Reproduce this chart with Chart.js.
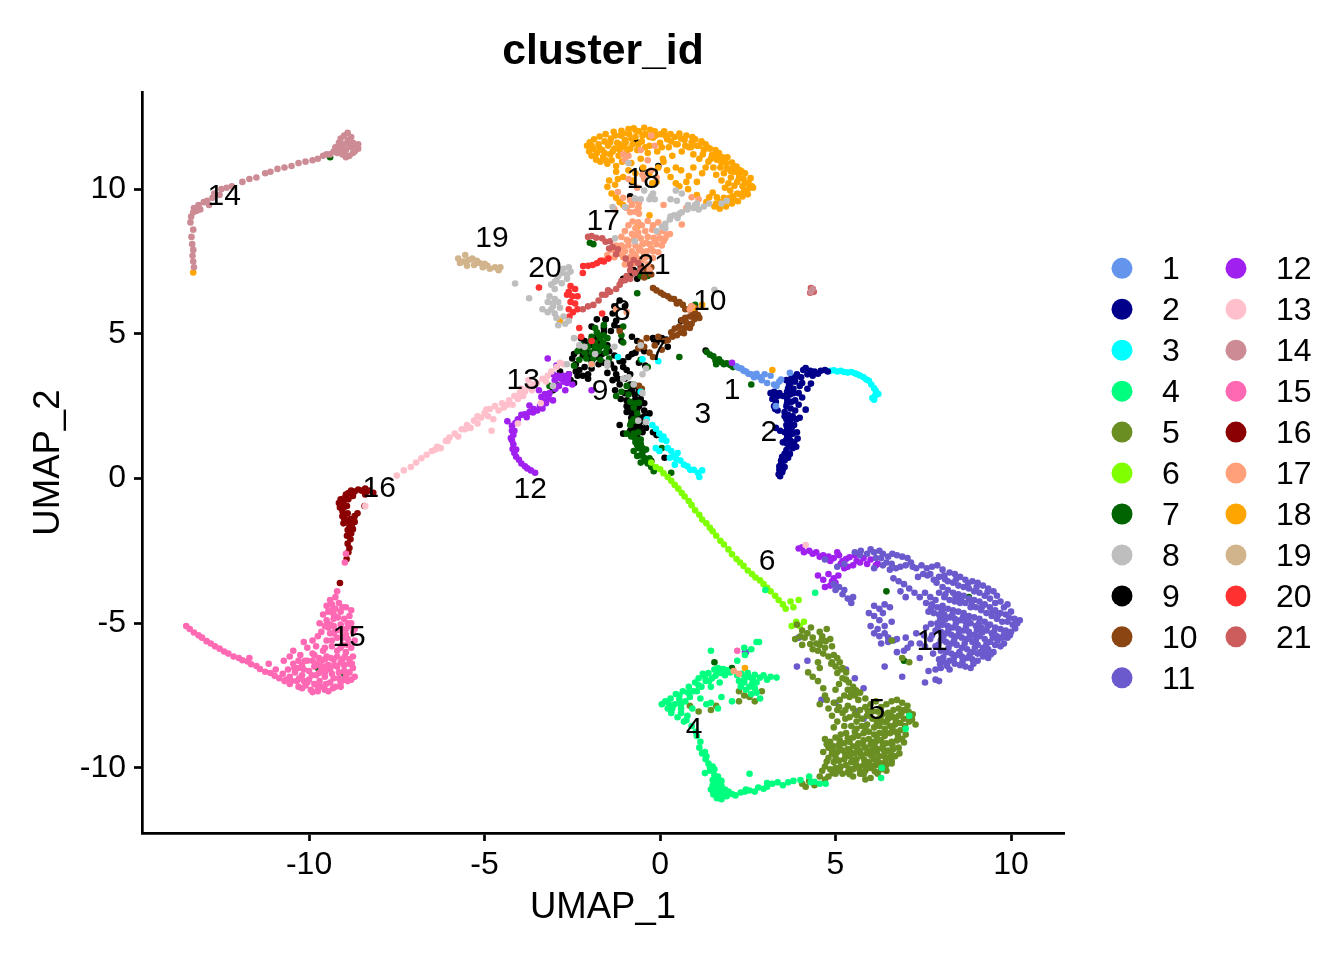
<!DOCTYPE html>
<html>
<head>
<meta charset="utf-8">
<style>
  html, body { margin: 0; padding: 0; background: #fff; }
  canvas { display: block; }
</style>
<script src="https://cdn.jsdelivr.net/npm/chart.js@4/dist/chart.umd.min.js"></script>
</head>
<body>
<canvas id="umap" width="1344" height="960"></canvas>
<script>
// values, flat lists of x,y in UMAP units
const clusterNames = ["1","2","3","4","5","6","7","8","9","10","11","12","13","14","15","16","17","18","19","20","21"];
const clusterColors = ["#6495ED","#00008B","#00FFFF","#00FF7F","#6B8E23","#7FFF00","#006400","#BEBEBE","#000000","#8B4513","#6A5ACD","#A020F0","#FFC0CB","#CD8C95","#FF69B4","#8B0000","#FFA07A","#FFA500","#D2B48C","#FF3030","#CD5C5C"];
const labelX = [2.05,3.1,1.22,0.97,6.18,3.05,-0.06,-1.08,-1.71,1.42,7.75,-3.7,-3.9,-12.42,-8.86,-8.0,-1.62,-0.48,-4.79,-3.28,-0.17];
const labelY = [3.09,1.64,2.26,-8.62,-7.96,-2.82,4.44,5.82,3.06,6.17,-5.58,-0.33,3.44,9.79,-5.44,-0.29,8.93,10.38,8.34,7.31,7.41];
const xTicks = [-10,-5,0,5,10];
const yTicks = [-10,-5,0,5,10];

const c1 = [2.18,3.88,2.25,3.82,2.32,3.8,2.38,3.72,2.45,3.7,2.52,3.62,2.6,3.6,2.68,3.5,2.75,3.62,2.85,3.5,2.9,3.4,2.98,3.6,3.05,3.3,3.15,3.55,3.25,3.25,3.32,3.2,3.4,3.35,3.45,3.42,3.7,3.65,3.3,2.5];
const c2 = [3.6,3.4,3.68,3.25,3.75,3.5,3.8,3.1,3.85,3.35,3.9,3.6,3.98,3.2,4.02,3.5,4.08,3.75,4.15,3.82,4.2,3.6,4.28,3.72,4.35,3.55,4.4,3.7,4.5,3.62,4.58,3.72,4.7,3.75,4.78,3.7,4.3,3.28,4.2,3.1,3.95,2.95,3.62,3.0,3.15,2.95,3.25,3.0,3.35,2.85,3.2,2.75,3.3,2.65,3.4,2.95,3.25,2.5,3.35,2.35,3.62,2.75,3.7,2.9,3.85,2.7,3.95,2.55,4.05,2.8,3.6,2.5,3.72,2.42,3.85,2.35,3.55,2.3,3.65,2.2,3.78,2.15,3.88,2.05,3.98,2.1,4.15,2.38,3.6,2.05,3.7,1.95,3.82,1.85,3.6,1.85,3.3,1.75,3.42,1.65,3.55,1.6,3.68,1.68,3.78,1.55,3.9,1.6,3.5,1.25,3.62,1.4,3.72,1.3,3.82,1.25,3.92,1.38,3.68,1.12,3.78,1.05,3.88,1.1,3.6,0.98,3.7,0.85,3.48,0.75,3.55,0.62,3.65,0.72,3.45,0.5,3.55,0.4,3.4,0.3,3.48,0.22,3.38,0.15,3.5,0.32,3.42,0.08,3.72,3.3,3.85,3.5,4.05,3.3,3.65,3.12,3.5,2.85,3.8,2.95,3.3,2.9,3.28,2.4,3.62,2.6,3.75,2.65,3.72,2.05,3.55,2.15,3.62,1.75,3.75,1.75,3.62,1.52,3.58,1.3,3.7,1.5,3.62,1.2,3.55,0.85,3.6,0.78,3.45,0.62,3.4,0.42];
const c3 = [4.85,3.72,4.95,3.74,5.05,3.7,5.15,3.72,5.25,3.68,5.35,3.66,5.45,3.68,5.55,3.64,5.62,3.6,5.7,3.56,5.8,3.5,5.88,3.42,5.95,3.38,6.02,3.25,6.1,3.12,6.15,3.02,6.22,2.92,6.12,2.85,6.05,2.78,6.1,2.72,-0.38,2.05,-0.22,1.85,-0.12,1.72,-0.02,1.55,0.05,1.35,0.1,1.45,0.18,1.3,-0.12,1.05,-0.02,0.95,0.22,1.05,0.32,0.95,0.38,0.78,0.46,0.68,0.58,0.62,0.68,0.48,0.78,0.42,0.86,0.3,0.96,0.3,1.08,0.2,1.2,0.28,1.12,0.05,0.5,0.88,0.28,0.72,0.42,0.48,-1.95,3.95,-0.5,4.12,-0.05,4.05,-1.2,4.2,-0.55,3.0];
const c4 = [0.05,-7.8,0.15,-7.7,0.22,-7.95,0.3,-7.6,0.32,-8.1,0.42,-7.8,0.45,-7.45,0.5,-8.25,0.55,-7.65,0.6,-7.95,0.65,-7.35,0.68,-8.4,0.72,-7.7,0.78,-8.2,0.82,-7.2,0.85,-7.55,0.9,-8.55,0.92,-7.95,1.0,-7.05,1.05,-7.35,1.02,-8.75,1.1,-6.9,1.15,-7.6,1.18,-7.2,1.22,-6.75,1.3,-7.0,1.32,-7.8,1.38,-6.72,1.45,-7.2,1.48,-6.9,1.55,-6.6,1.58,-6.82,1.65,-6.55,1.7,-7.05,1.72,-6.72,1.8,-6.58,1.85,-6.8,1.9,-6.62,2.0,-6.7,1.75,-7.55,1.45,-7.75,1.65,-7.95,2.2,-6.8,2.25,-7.0,2.32,-6.75,2.4,-6.95,2.5,-6.72,2.58,-6.88,2.62,-7.1,2.7,-6.78,2.75,-7.05,2.85,-6.88,2.95,-6.8,3.05,-6.95,3.15,-6.85,3.32,-6.88,2.3,-7.2,2.45,-7.3,2.6,-7.45,2.75,-7.4,2.85,-7.6,2.05,-7.7,1.45,-5.95,2.2,-6.3,2.42,-6.1,2.6,-5.9,2.75,-5.65,2.82,-5.65,2.4,-5.85,1.05,-8.9,1.15,-9.1,1.12,-9.3,1.2,-9.5,1.28,-9.45,1.3,-9.7,1.38,-9.85,1.5,-9.95,1.55,-10.05,1.42,-10.1,1.28,-10.18,2.55,-10.2,1.55,-10.25,1.65,-10.3,1.5,-10.42,1.62,-10.48,1.75,-10.45,1.5,-10.6,1.62,-10.65,1.75,-10.62,1.45,-10.75,1.58,-10.82,1.7,-10.78,1.85,-10.75,1.52,-10.92,1.68,-10.95,1.8,-10.98,1.62,-11.05,1.75,-11.08,1.9,-10.98,2.05,-10.9,2.15,-10.95,2.3,-10.85,2.42,-10.82,2.55,-10.78,2.7,-10.82,2.8,-10.68,2.95,-10.72,3.05,-10.52,3.2,-10.55,3.05,-10.65,3.35,-10.5,3.5,-10.6,3.65,-10.5,3.8,-10.45,4.0,-10.42,4.25,-10.3,4.4,-10.48,4.55,-10.55,4.72,-10.55,4.3,-10.5,7.0,-8.65,7.1,-8.2,6.32,-10.0,6.3,-10.35,3.0,-3.85,4.42,-3.95,0.25,-7.8,0.35,-7.95,0.6,-7.8,0.55,-7.5,0.8,-7.4,0.95,-7.35,1.1,-7.15,1.28,-6.85,1.4,-7.0,1.62,-6.7,1.75,-6.6,2.45,-6.85,2.65,-6.95,2.4,-7.05,2.55,-7.2,2.7,-7.25,1.55,-10.6,1.7,-10.55,1.85,-10.88,1.55,-10.75,1.95,-10.82,2.45,-10.75,0.6,-8.1,0.75,-8.35,1.42,-9.95,1.32,-9.6];
const c5 = [3.9,-5.05,4.05,-5.25,4.0,-5.45,4.2,-5.35,4.3,-5.15,4.35,-5.5,4.45,-5.7,4.55,-5.3,4.6,-5.6,4.7,-5.85,4.5,-5.95,4.35,-5.9,4.75,-5.2,4.85,-5.55,4.9,-5.8,4.65,-6.05,4.8,-6.15,4.95,-6.1,5.05,-6.2,4.88,-6.4,5.0,-6.5,5.12,-6.35,5.2,-6.55,5.05,-6.72,4.22,-6.7,4.35,-6.85,4.5,-7.0,5.3,-6.7,5.2,-6.9,5.38,-7.05,5.1,-7.1,5.5,-7.2,5.35,-7.3,5.25,-7.5,5.0,-7.3,4.65,-7.25,4.75,-7.65,4.55,-7.8,4.8,-7.95,5.4,-7.55,5.55,-7.5,5.7,-7.4,5.65,-7.65,5.85,-7.6,5.1,-7.9,5.2,-8.1,5.35,-7.85,5.5,-7.95,4.9,-8.2,5.05,-8.4,4.95,-8.6,5.25,-8.55,5.4,-8.25,5.55,-8.15,5.7,-8.0,5.85,-7.9,6.0,-7.8,6.15,-7.7,6.3,-7.9,6.45,-7.8,6.6,-7.7,6.75,-7.65,6.9,-7.75,7.05,-7.85,7.2,-8.15,7.1,-8.4,7.28,-8.5,6.95,-8.0,6.8,-7.95,6.65,-8.0,6.5,-8.1,6.35,-8.15,6.2,-8.05,6.05,-8.05,5.9,-8.2,5.75,-8.3,5.6,-8.4,5.45,-8.55,5.3,-8.8,5.15,-8.85,5.0,-8.95,4.85,-9.1,4.7,-9.0,5.6,-8.65,5.75,-8.55,5.9,-8.5,6.05,-8.3,6.2,-8.35,6.35,-8.4,6.5,-8.3,6.65,-8.25,6.8,-8.2,6.95,-8.3,6.85,-8.45,6.7,-8.5,6.55,-8.55,6.4,-8.65,6.25,-8.55,6.1,-8.6,5.95,-8.75,5.8,-8.8,5.65,-8.9,5.5,-8.95,5.4,-9.1,5.25,-9.15,5.1,-9.2,4.95,-9.25,4.8,-9.3,4.65,-9.45,4.9,-9.5,5.05,-9.45,5.2,-9.4,5.35,-9.35,5.5,-9.25,5.65,-9.15,5.8,-9.05,5.95,-9.0,6.1,-8.85,6.25,-8.8,6.4,-8.9,6.55,-8.8,6.7,-8.75,6.85,-8.7,7.0,-8.85,6.9,-9.0,6.75,-9.05,6.6,-9.1,6.45,-9.15,6.3,-9.05,6.15,-9.1,6.0,-9.2,5.85,-9.3,5.7,-9.4,5.55,-9.5,5.4,-9.6,5.25,-9.7,5.1,-9.75,4.95,-9.8,4.8,-9.65,4.7,-9.95,4.85,-10.05,5.0,-10.0,5.15,-9.95,5.3,-9.9,5.45,-9.8,5.6,-9.7,5.75,-9.6,5.9,-9.5,6.05,-9.4,6.2,-9.35,6.35,-9.35,6.5,-9.4,6.65,-9.35,6.8,-9.3,6.7,-9.6,6.55,-9.65,6.4,-9.6,6.25,-9.6,6.1,-9.7,5.95,-9.8,5.8,-9.9,5.65,-9.95,5.5,-10.05,5.35,-10.15,5.2,-10.2,5.0,-10.2,4.8,-10.3,4.55,-10.3,4.4,-10.6,4.25,-10.45,4.15,-10.65,4.05,-10.55,4.7,-10.4,5.5,-10.3,5.7,-10.2,5.85,-10.1,6.0,-10.0,6.15,-9.9,6.3,-9.85,6.45,-9.9,6.6,-9.85,6.2,-10.2,6.0,-10.35,5.85,-10.4,6.45,-10.1,2.25,-7.35,2.4,-7.5,2.55,-7.55,2.7,-7.7,2.9,-7.35,2.25,-7.7,0.85,-7.85,1.1,-8.05,1.45,-8.0,1.6,-7.85,4.7,-7.5,4.55,-6.55,4.5,-6.35,6.6,-5.6,6.9,-6.2,7.1,-6.35,4.05,-5.75,3.85,-5.55,5.28,-8.0,5.62,-8.18,5.92,-8.02,6.28,-8.25,6.58,-8.18,6.88,-8.1,7.08,-8.05,7.18,-8.33,6.98,-8.55,6.72,-8.38,6.45,-8.42,6.18,-8.45,5.85,-8.62,5.55,-8.75,5.35,-8.98,5.12,-9.05,4.9,-9.38,4.75,-9.18,5.12,-9.32,5.42,-9.45,5.62,-9.32,5.78,-9.18,6.02,-9.1,6.18,-8.98,6.42,-8.78,6.62,-8.65,6.78,-8.88,6.95,-9.12,6.62,-9.22,6.35,-9.22,6.12,-9.28,5.92,-9.42,5.72,-9.52,5.5,-9.72,5.28,-9.55,5.0,-9.62,4.75,-9.78,4.62,-10.1,4.92,-10.18,5.12,-10.1,5.38,-10.02,5.58,-9.88,5.82,-9.72,6.02,-9.58,6.18,-9.5,6.4,-9.48,6.58,-9.48,6.82,-9.5,6.6,-9.75,6.42,-9.78,6.22,-9.8,6.02,-9.92,5.88,-10.0,5.68,-10.05,5.4,-10.22,6.3,-10.05,6.12,-10.12,5.8,-10.22,4.12,-5.5,4.28,-5.72,4.55,-5.75,4.72,-5.62,4.62,-5.45,4.9,-6.35,5.15,-6.6,5.3,-6.95,5.45,-7.4,5.58,-7.32,5.12,-7.65,4.95,-7.75,5.05,-8.0,5.28,-8.3];
const c6 = [-0.25,0.55,-0.12,0.4,0,0.32,0.1,0.18,0.22,0.05,0.32,-0.08,0.42,-0.22,0.52,-0.35,0.62,-0.5,0.7,-0.62,0.82,-0.78,0.9,-0.92,1.0,-1.1,1.12,-1.25,1.2,-1.42,1.32,-1.55,1.42,-1.7,1.5,-1.82,1.6,-1.98,1.72,-2.15,1.82,-2.28,1.95,-2.45,2.05,-2.62,2.18,-2.78,2.28,-2.9,2.38,-3.02,2.5,-3.18,2.62,-3.3,2.72,-3.42,2.85,-3.52,2.95,-3.65,3.05,-3.78,3.15,-3.9,3.28,-4.05,3.38,-4.2,3.5,-4.35,3.58,-4.5,3.72,-4.25,3.95,-4.2,3.8,-4.45,3.88,-4.95,3.98,-5.1,4.1,-4.95,3.75,-5.1];
const c7 = [1.33,4.37,1.42,4.28,1.52,4.22,1.58,4.08,1.68,4.12,1.75,4.02,1.82,3.95,1.9,3.98,2.0,3.92,2.08,3.85,1.6,3.95,3.65,2.95,2.6,3.25,-1.8,5.05,-1.95,4.9,-1.7,4.85,-1.85,4.7,-2.05,4.55,-1.65,4.6,-1.5,4.85,-2.25,4.6,-2.35,4.4,-2.15,4.35,-1.95,4.35,-1.75,4.4,-1.55,4.35,-1.9,4.15,-2.1,4.15,-2.3,4.1,-1.7,4.1,-1.45,4.15,-2.45,3.9,-1.6,5.3,-1.05,5.25,-1.1,4.95,-1.05,4.7,-0.55,4.1,-0.35,3.85,-0.75,3.25,-0.95,3.2,-1.1,3.0,-1.25,2.85,-0.85,2.65,-0.75,2.45,-0.65,2.25,-0.75,2.05,-0.85,1.85,-0.95,1.55,-0.55,1.35,-0.7,1.25,-0.6,1.05,-0.75,0.95,-0.5,0.9,-0.65,0.78,-0.45,0.72,-0.55,0.55,-0.35,0.52,-0.25,0.4,-0.3,0.7,-0.18,0.25,0.05,1.05,0.32,0.2,-2.95,3.25,-3.0,3.1,-3.15,3.2,-0.35,7.0,0.55,4.2,1.0,6.0,-2.0,8.15,-1.9,8.1,-0.65,6.4,-0.55,7.0,-9.4,11.1,-9.75,-6.55,-9.0,-6.75,8.8,-4.1,6.45,-3.9,6.95,-6.3,1.55,-6.35,2.05,-6.55,-1.85,5.2,-1.75,4.95,-1.6,4.95,-1.98,4.75,-1.62,4.7,-2.15,4.5,-1.85,4.55,-1.52,4.52,-1.7,4.55,-0.75,1.55,-0.62,1.6,-0.72,1.4,-0.55,1.2,-0.65,1.15,-0.5,1.05,-0.4,1.0,-0.55,0.8,-0.4,0.6,-0.82,1.45,-0.7,2.6,-0.9,2.9,-0.6,2.62,-0.82,1.95,-0.7,2.0];
const c8 = [-2.75,7.25,-2.6,7.3,-2.55,7.15,-2.9,7.0,-2.95,6.85,-3.1,6.7,-2.8,6.75,-2.65,6.9,-3.0,6.55,-3.15,6.3,-3.0,6.2,-3.2,6.1,-3.05,5.95,-3.2,5.75,-3.0,5.7,-2.85,5.9,-2.75,5.6,-2.6,5.45,-2.9,5.3,-4.13,6.74,-3.73,6.23,-3.35,5.85,-2.45,4.85,-2.3,4.6,-2.15,4.55,-1.85,4.3,-1.5,4.0,-1.3,4.55,-0.55,4.6,-0.5,2.95,-0.75,3.25,-1.05,3.45,-0.9,3.5,-0.5,3.6,-0.4,3.8,-1.5,3.9,-2.65,3.95,-3.05,3.2,-0.62,2.0,-0.4,1.95,0.06,8.7,-0.1,8.55,0.15,8.8,0.28,8.95,0.4,9.1,0.5,9.0,0.62,9.2,0.78,9.3,0.95,9.35,1.1,9.3,1.25,9.4,1.4,9.5,-0.2,9.85,-0.3,9.65,-0.15,9.65,-0.55,9.65,-0.72,9.68,-0.45,9.95,0.3,9.65,0.48,9.6,0.45,9.95,0.62,9.85,1.05,9.5,-1.0,9.38,-1.35,9.38,-0.9,10.9,-0.72,8.2,1.55,6.52,-1.28,8.3,0.8,9.45,1.75,9.5,1.9,9.6,-2.8,7.1,-2.65,7.05,-3.0,6.8,-3.05,6.05,-2.9,6.1,-3.1,5.85,-2.95,5.55,-2.7,5.35,0.3,9.05,0.55,9.15,1.0,9.45,-0.25,9.75,0.15,8.65];
const c9 = [1.3,4.42,-1.8,5.5,-1.55,5.5,-1.35,5.7,-1.25,5.45,-1.15,6.15,-1.0,5.95,-1.3,5.95,-1.6,5.2,-1.4,5.1,-1.15,5.2,-1.95,5.25,-2.25,4.85,-2.15,4.75,-2.3,4.45,-2.2,4.25,-2.05,4.65,-1.9,4.6,-1.85,4.45,-2.0,4.2,-1.8,4.2,-1.65,4.3,-1.45,4.4,-1.3,4.25,-1.1,4.75,-1.15,4.05,-1.05,3.85,-1.3,3.8,-1.5,3.65,-1.25,3.6,-0.95,3.75,-2.4,3.95,-2.3,3.75,-2.15,3.85,-2.05,3.6,-2.35,3.55,-2.55,3.4,-2.45,3.3,-2.7,3.35,-2.85,3.7,-2.6,3.6,-0.8,4.9,-0.65,4.75,-0.7,4.35,-0.55,4.5,-0.45,4.4,-0.6,4.0,-0.42,3.9,-0.8,4.3,-0.2,4.85,-0.1,4.7,0.05,4.85,0.18,4.8,0.22,4.55,-1.0,3.45,-0.85,3.25,-1.15,3.25,-0.7,3.2,-0.6,3.05,-1.28,3.05,-1.0,2.95,-0.85,3.0,-1.12,2.75,-0.95,2.7,-0.7,2.75,-0.55,2.75,-0.95,2.5,-0.8,2.55,-0.6,2.5,-0.95,2.3,-0.8,2.25,-0.65,2.4,-0.45,2.35,-0.82,2.1,-0.65,2.05,-0.55,2.1,-0.7,1.85,-0.85,1.65,-0.55,1.75,-0.42,1.95,-0.2,1.6,-0.1,1.5,-1.15,1.85,-1.05,1.55,-0.65,1.45,0.13,0.72,-0.25,0.6,-3.05,3.05,-0.8,10.25,-0.85,9.75,-0.7,11.65,-0.05,10.8,-0.5,10.7,-0.75,7.2,-0.85,7.0,-0.65,6.9,-0.6,7.1,-1.05,6.9,-0.55,7.35,1.0,5.6,0.6,5.45,-2.2,4.55,-2.1,4.4,-1.95,4.05,-1.75,3.95,-1.6,4.0,-1.4,3.95,-1.2,3.45,-1.35,3.4,-2.2,3.55,-2.05,3.45,-2.4,3.7,-2.65,3.5,-1.95,3.8,-1.55,5.5,-1.6,5.05,-1.3,5.3,-1.85,4.85,-1.7,4.7,-1.5,4.6,-2.45,4.3,-2.5,4.15,-0.9,4.2,-1.05,4.05,-0.85,3.6,-0.8,3.05,-0.72,2.9,-0.55,2.95,-0.45,2.6,-0.75,2.65,-0.85,2.4,-0.7,2.15,-0.6,1.9,-0.4,1.75,-0.45,2.15,-0.3,2.25,-0.5,1.6,-0.72,1.7];
const c10 = [-0.2,6.58,-0.1,6.5,0.02,6.42,0.1,6.35,0.22,6.3,0.3,6.22,0.4,6.2,0.48,6.05,0.55,6.1,0.65,6.0,0.72,5.85,0.82,5.85,0.92,5.78,1.0,5.72,1.08,5.65,1.12,5.55,0.98,5.5,0.85,5.6,0.72,5.55,0.62,5.48,0.75,5.38,0.9,5.35,0.85,5.2,0.7,5.2,0.55,5.25,0.42,5.18,0.58,5.05,0.68,5.02,0.48,4.95,0.35,4.9,0.22,4.78,0.12,4.75,-0.15,4.6,-0.3,4.35,-0.45,4.55,-0.55,4.7,-0.38,4.85,-0.62,4.5,-0.2,4.2,0.05,4.45,-0.05,4.9,0.32,5.05,-0.6,3.2,-0.52,3.1,-0.55,7.25,-0.4,7.25,-0.25,7.3,-0.25,7.05,-0.45,6.95,-1.15,5.1,-0.6,7.95,1.0,5.9,0.9,5.95];
const c11 = [5.55,-2.55,5.72,-2.5,5.9,-2.6,6.0,-2.45,6.1,-2.55,6.25,-2.5,6.35,-2.6,6.15,-2.75,6.3,-2.75,6.5,-2.7,6.62,-2.6,6.75,-2.65,6.9,-2.7,7.05,-2.75,7.15,-2.9,6.45,-2.9,6.6,-2.95,6.55,-3.15,6.72,-3.1,6.85,-3.05,7.0,-3.0,7.2,-3.05,7.3,-3.1,7.45,-3.0,7.6,-3.1,7.75,-3.05,7.9,-3.0,8.05,-3.15,7.7,-3.3,7.5,-3.3,7.35,-3.4,7.8,-3.5,7.95,-3.4,8.1,-3.35,8.25,-3.25,8.4,-3.3,8.55,-3.4,8.7,-3.5,8.9,-3.55,9.05,-3.6,9.2,-3.7,9.35,-3.8,9.5,-3.9,9.6,-4.05,8.2,-3.55,8.35,-3.6,8.5,-3.7,8.65,-3.75,8.8,-3.8,8.95,-3.9,9.1,-3.95,9.25,-4.05,9.4,-4.15,9.55,-4.3,9.7,-4.25,9.8,-4.45,9.9,-4.35,8.05,-3.75,8.2,-3.85,8.35,-3.95,8.5,-4.0,8.65,-4.05,8.8,-4.15,8.95,-4.2,9.1,-4.25,9.25,-4.35,9.4,-4.45,9.55,-4.55,9.7,-4.65,9.85,-4.7,10.0,-4.6,10.1,-4.85,10.25,-4.9,10.05,-5.05,9.9,-4.95,9.75,-4.95,9.6,-4.85,9.45,-4.75,9.3,-4.65,9.15,-4.55,9.0,-4.45,8.85,-4.45,8.7,-4.3,8.55,-4.3,8.4,-4.25,8.25,-4.2,8.1,-4.1,7.95,-3.95,7.85,-4.2,7.7,-4.1,7.55,-3.95,7.4,-4.1,7.25,-3.95,7.1,-3.8,6.95,-3.65,6.8,-3.55,6.65,-3.45,7.0,-4.1,6.85,-3.9,7.75,-4.35,7.9,-4.45,8.05,-4.4,8.2,-4.5,8.35,-4.55,8.5,-4.6,8.65,-4.65,8.8,-4.75,8.95,-4.8,9.1,-4.85,9.25,-4.95,9.4,-5.05,9.55,-5.15,9.7,-5.2,9.85,-5.25,10.0,-5.3,9.9,-5.5,9.75,-5.5,9.6,-5.45,9.45,-5.35,9.3,-5.25,9.15,-5.15,9.0,-5.1,8.85,-5.0,8.7,-4.95,8.55,-4.9,8.4,-4.85,8.25,-4.8,8.1,-4.7,7.95,-4.7,7.8,-4.65,7.65,-4.6,7.9,-5.0,8.05,-5.05,8.2,-5.1,8.35,-5.15,8.5,-5.2,8.65,-5.25,8.8,-5.3,8.95,-5.4,9.1,-5.45,9.25,-5.55,9.4,-5.65,9.55,-5.75,9.7,-5.8,9.8,-5.7,9.5,-6.0,9.35,-5.9,9.2,-5.85,9.05,-5.75,8.9,-5.65,8.75,-5.55,8.6,-5.5,8.45,-5.45,8.3,-5.4,8.15,-5.35,8.0,-5.3,7.85,-5.25,8.0,-5.6,8.15,-5.65,8.3,-5.7,8.45,-5.75,8.6,-5.85,8.75,-5.9,8.9,-6.0,9.05,-6.05,9.2,-6.15,9.35,-6.2,9.05,-6.3,8.9,-6.25,8.75,-6.2,8.6,-6.15,8.45,-6.1,8.3,-6.05,8.15,-6.0,8.0,-5.95,7.95,-6.25,8.1,-6.35,8.25,-6.3,8.4,-6.4,8.55,-6.45,8.7,-6.5,8.85,-6.55,7.85,-5.8,8.25,-6.6,8.0,-6.55,7.85,-6.6,7.4,-6.2,7.7,-5.55,7.55,-5.8,7.4,-5.7,7.3,-5.35,7.15,-5.7,7.05,-5.85,6.95,-5.95,6.75,-5.55,6.65,-5.6,7.0,-5.5,6.1,-4.4,6.25,-4.5,6.4,-4.35,6.55,-4.45,6.6,-4.95,5.95,-4.65,6.1,-4.75,6.25,-4.9,6.35,-4.65,6.4,-5.1,6.2,-5.2,6.1,-5.35,6.25,-5.45,6.4,-5.35,6.5,-5.5,6.3,-5.7,6.5,-5.65,6.0,-5.1,4.95,-3.65,5.1,-3.75,5.0,-3.85,5.25,-3.85,5.2,-4.0,5.35,-4.15,5.45,-4.3,5.5,-4.1,5.05,-3.05,4.7,-2.8,5.25,-2.95,5.7,-2.65,6.75,-6.0,7.85,-6.95,7.65,-6.65,7.55,-7.05,5.6,-8.05,5.8,-8.3,3.95,-5.5,4.2,-6.3,5.0,-7.75,6.4,-6.5,6.9,-6.85,7.95,-7.0,4.6,-7.65,3.9,-6.5,2.45,-6.0,5.3,-6.6,5.55,-6.9,5.8,-7.25,6.35,-3.0,6.1,-3.1,8.12,-3.48,8.43,-3.5,8.78,-3.62,9.02,-3.75,9.33,-3.92,7.62,-3.35,7.88,-3.6,8.13,-4.0,8.42,-4.1,8.58,-4.17,8.88,-4.3,9.18,-4.42,9.47,-4.6,9.63,-4.72,9.95,-4.82,10.18,-5.0,10.12,-5.18,9.97,-5.42,9.8,-5.38,9.52,-5.3,9.33,-5.12,9.08,-5.02,8.78,-4.9,8.63,-4.8,8.33,-4.7,8.03,-4.55,7.72,-4.48,7.58,-4.3,7.98,-4.85,8.12,-4.88,8.43,-5.0,8.72,-5.12,9.03,-5.25,9.18,-5.32,9.48,-5.5,9.62,-5.6,9.3,-5.72,9.0,-5.58,8.82,-5.48,8.52,-5.35,8.22,-5.22,7.92,-5.12,7.72,-5.02,7.58,-5.15,7.52,-5.42,7.75,-5.42,8.07,-5.48,8.38,-5.58,8.68,-5.7,8.97,-5.85,9.28,-6.03,9.42,-6.08,9.13,-6.0,8.82,-6.1,8.53,-6.0,8.22,-5.85,7.93,-5.75,7.78,-6.05,8.07,-6.18,8.37,-6.22,8.62,-6.32,8.93,-6.4,8.18,-6.48,7.98,-6.42];
const c12 = [-3.56,0.2,-3.68,0.28,-3.78,0.35,-3.85,0.42,-3.95,0.52,-4.02,0.65,-4.1,0.75,-4.15,0.88,-4.2,1.02,-4.18,1.18,-4.22,1.32,-4.18,1.5,-4.15,1.65,-4.22,1.82,-4.35,1.98,-4.05,2.05,-4.12,1.92,-3.95,2.2,-3.8,2.12,-3.72,2.3,-3.62,2.28,-3.5,2.35,-3.42,2.5,-3.35,2.42,-3.22,2.72,-3.38,2.82,-3.28,2.92,-3.15,2.95,-3.45,3.05,-3.25,2.6,-3.05,2.7,-3.72,2.52,-2.98,3.1,-2.88,3.2,-2.75,3.35,-2.62,3.45,-3.0,3.4,-2.9,3.55,-2.75,3.55,-3.05,3.6,-2.6,3.6,-3.2,4.15,-2.5,3.25,-2.95,3.9,-2.7,3.05,-1.95,3.05,3.95,-2.42,4.05,-2.38,4.1,-2.55,4.25,-2.5,4.35,-2.6,4.45,-2.55,4.55,-2.7,4.65,-2.65,4.8,-2.7,4.85,-2.85,4.95,-2.75,5.1,-2.65,5.2,-2.85,5.3,-2.78,5.15,-2.95,5.4,-2.72,5.55,-2.65,5.6,-2.85,5.7,-2.9,5.5,-3.0,5.35,-3.05,5.25,-3.1,5.8,-2.75,6.0,-2.8,6.2,-2.95,6.15,-3.0,5.9,-2.95,4.5,-3.35,4.65,-3.5,4.8,-3.3,4.9,-3.55,5.0,-3.6,4.85,-3.7,5.08,-3.35,5.05,-2.55,4.7,-3.75,4.95,-3.45,2.42,-6.0,2.05,4.0,-4.25,1.4,-4.22,1.65,-4.1,1.0,-3.85,2.22,-3.6,2.4,-3.3,2.68,-3.18,2.82,-2.82,3.45,-2.65,3.3];
const c13 = [-7.5,0.1,-7.3,0.28,-7.1,0.4,-6.95,0.55,-6.8,0.7,-6.65,0.82,-6.5,0.95,-6.35,1.1,-6.25,1.05,-6.1,1.3,-6.0,1.42,-5.85,1.55,-5.75,1.45,-5.65,1.7,-5.5,1.85,-5.4,1.75,-5.3,2.0,-5.2,1.9,-5.1,2.1,-5.0,2.25,-4.9,2.15,-4.85,2.4,-4.75,2.05,-4.7,2.5,-4.6,2.35,-4.5,2.6,-4.45,2.45,-4.3,2.7,-4.2,2.55,-4.15,2.85,-4.0,2.95,-3.85,3.0,-3.75,3.15,-3.65,3.05,-3.5,3.3,-3.35,3.45,-3.2,3.55,-3.1,3.7,-2.95,3.85,-2.85,4.0,-2.75,3.95,-4.8,1.65,-8.4,-0.95,4.15,-2.3,-4.05,1.9,-3.4,2.6,-3.75,3.4,-5.2,2.15,-4.95,2.38,-4.35,2.55,-4.05,2.75,-3.9,2.85,-3.95,3.1,-3.6,3.25,-3.25,3.35,-5.55,1.7,-6.05,1.3,-6.4,1.0];
const c14 = [-13.28,7.3,-13.3,7.5,-13.32,7.7,-13.3,7.9,-13.33,8.1,-13.35,8.35,-13.3,8.6,-13.38,8.85,-13.36,9.05,-13.3,9.2,-13.28,9.35,-13.2,9.25,-13.15,9.45,-13.1,9.3,-13,9.55,-12.9,9.6,-12.85,9.45,-12.75,9.7,-12.7,9.85,-12.55,9.8,-12.5,10,-12.35,10.05,-12.2,10.1,-11.9,10.25,-11.7,10.35,-11.5,10.4,-11.25,10.55,-11.1,10.6,-10.9,10.7,-10.7,10.75,-10.5,10.8,-10.3,10.9,-10.1,10.95,-9.9,11,-9.75,11.05,-9.6,11.15,-9.5,11.2,-9.4,11.2,-9.3,11.3,-9.2,11.25,-9.1,11.4,-9.05,11.2,-9,11.55,-8.95,11.35,-8.9,11.7,-8.85,11.15,-8.8,11.45,-8.75,11.6,-8.7,11.3,-8.65,11.5,-8.6,11.4,-9.15,11.6,-9.1,11.75,-9,11.85,-8.9,11.95,-8.8,11.8,-8.95,11.1,-9.25,11.45,-8.6,11.55,4.3,6.45,4.35,6.55,-9.0,11.25,-8.85,11.55,-8.75,11.25,-9.1,11.55];
const c15 = [-13.5,-5.1,-13.4,-5.2,-13.28,-5.32,-13.15,-5.42,-13.05,-5.5,-12.92,-5.62,-12.8,-5.7,-12.68,-5.8,-12.55,-5.88,-12.42,-5.98,-12.3,-6.05,-12.15,-6.15,-12.0,-6.2,-11.9,-6.28,-11.75,-6.32,-11.65,-6.42,-11.5,-6.48,-11.4,-6.58,-11.25,-6.68,-11.1,-6.72,-10.98,-6.82,-11.7,-6.2,-11.15,-6.4,-10.72,-6.3,-10.95,-6.6,-10.85,-6.9,-10.75,-6.75,-10.6,-6.6,-10.7,-7.0,-10.55,-6.85,-10.45,-6.4,-10.4,-6.7,-10.55,-7.1,-10.35,-7.0,-10.25,-6.1,-10.2,-6.45,-10.2,-6.8,-10.3,-7.2,-10.1,-7.15,-10.05,-5.85,-10.05,-6.3,-10.0,-6.65,-10.0,-6.95,-9.95,-7.3,-9.85,-7.1,-9.85,-6.5,-9.8,-5.8,-9.85,-6.1,-9.8,-6.8,-9.75,-7.35,-9.7,-7.0,-9.65,-6.3,-9.65,-6.6,-9.6,-5.95,-9.6,-7.2,-9.55,-6.85,-9.5,-5.6,-9.5,-6.15,-9.45,-6.45,-9.45,-7.35,-9.4,-7.05,-9.35,-5.8,-9.35,-6.75,-9.3,-6.25,-9.25,-7.2,-9.2,-5.5,-9.2,-5.95,-9.2,-6.5,-9.15,-6.9,-9.1,-7.05,-9.05,-5.75,-9.05,-6.25,-9.0,-6.65,-9.0,-6.95,-8.95,-5.4,-8.95,-6.0,-8.9,-7.0,-8.85,-6.4,-8.85,-6.7,-8.8,-5.85,-8.75,-6.15,-8.75,-6.55,-8.7,-6.85,-8.85,-5.1,-9.1,-5.05,-9.25,-5.25,-9.4,-5.35,-9.55,-5.1,-9.65,-5.3,-9.75,-5.45,-9.6,-4.7,-9.5,-4.9,-9.45,-4.6,-9.35,-4.35,-9.3,-4.7,-9.25,-4.1,-9.2,-3.9,-9.15,-4.3,-9.1,-4.6,-9.0,-4.85,-8.95,-4.45,-8.85,-4.75,-8.8,-5.0,-8.75,-5.3,-8.9,-5.55,-8.7,-5.6,-10.3,-6.3,-10.55,-6.15,-10.15,-5.65,-9.9,-5.6,-10.45,-5.95,-9.3,-5.1,-9.7,-5.0,-9.4,-5.05,-9.8,-6.4,-10.15,-6.6,-9.7,-6.45,-9.55,-6.5,-8.95,-2.6,-8.98,-2.9,2.2,-5.95,-10.65,-6.95,-10.5,-7.0,-10.42,-6.55,-10.3,-6.55,-10.28,-6.9,-10.15,-7.0,-10.12,-6.3,-10.05,-7.05,-9.92,-6.8,-9.9,-6.3,-9.9,-6.05,-9.72,-6.2,-9.72,-6.72,-9.68,-7.2,-9.55,-6.25,-9.55,-6.7,-9.52,-7.1,-9.4,-6.6,-9.38,-6.2,-9.32,-7.25,-9.3,-6.9,-9.28,-6.45,-9.2,-6.15,-9.15,-6.7,-9.1,-6.35,-9.1,-5.85,-9.0,-6.45,-8.98,-6.15,-8.9,-5.75,-8.85,-6.25,-8.95,-6.82,-8.8,-6.95,-8.78,-6.4,-9.1,-7.2,-9.55,-7.3,-9.75,-7.2,-10.2,-7.25,-9.9,-7.38,-9.35,-5.6,-9.55,-5.85,-9.3,-5.35,-9.45,-5.15,-9.05,-5.5,-9.1,-5.25,-8.95,-5.2,-9.05,-4.45,-9.25,-4.5,-9.35,-4.55,-9.18,-4.8,-9.3,-4.85,-9.4,-4.2,-9.5,-4.4,-8.8,-4.55,-8.9,-5.0,-8.7,-5.2];
const c16 = [-9.12,-3.61,-8.93,-2.78,-8.88,-2.55,-8.85,-2.4,-8.9,-2.25,-8.82,-2.1,-8.92,-1.98,-8.8,-1.9,-8.9,-1.78,-8.75,-1.75,-8.85,-1.62,-8.78,-1.58,-8.7,-1.5,-8.92,-1.45,-8.82,-1.4,-8.7,-1.3,-8.98,-1.25,-8.9,-1.2,-9.05,-1.12,-9.12,-1.0,-9.0,-0.98,-8.92,-0.95,-9.15,-0.85,-9.02,-0.82,-9.1,-0.72,-9.0,-0.68,-8.95,-0.55,-8.88,-0.5,-8.8,-0.42,-8.7,-0.45,-8.6,-0.38,-8.5,-0.42,-8.4,-0.35,-8.3,-0.42,-8.17,-0.49,-8.42,-0.95,-8.62,-1.2,-8.88,-0.72,-8.4,-0.55,-8.75,-0.6,-9.05,-1.3,-9.02,-1.55,-9.0,-1.38];
const c17 = [-0.85,9.62,-0.72,9.6,-0.6,9.52,-0.62,9.35,-0.8,9.45,-0.95,9.35,-0.85,9.2,-0.7,9.22,-0.6,9.15,-0.78,8.88,-0.62,8.85,-0.9,8.75,-0.7,8.65,-0.52,8.75,-0.35,8.9,-0.2,8.75,-0.05,8.85,-1.0,8.55,-0.8,8.45,-0.62,8.5,-0.42,8.55,-0.22,8.6,-0.05,8.5,0.1,8.55,0.28,8.45,-1.1,8.35,-0.95,8.25,-0.75,8.25,-0.55,8.3,-0.35,8.35,-0.18,8.32,0,8.3,0.15,8.3,-1.25,8.05,-1.1,8.05,-0.9,8.05,-0.7,8.05,-0.5,8.1,-0.3,8.1,-0.1,8.1,0.05,8.05,-1.38,7.9,-1.2,7.85,-1.0,7.85,-0.8,7.85,-0.55,7.88,-0.38,7.85,-0.2,7.85,-0.05,7.82,-1.3,7.65,-1.05,7.65,-0.85,7.65,-0.65,7.6,-0.4,7.65,-0.2,7.62,-1.5,7.72,-1.62,7.55,-1.0,7.4,-0.75,7.42,-0.35,7.4,-0.3,7.2,-0.5,10.5,-0.25,10.65,-0.1,10.4,-0.45,10.35,-0.65,10.05,-0.9,10.35,-1.2,9.9,-1.05,9.7,-1.3,9.3,-0.35,11.0,-0.55,11.35,-1.0,11.0,-0.9,11.15,-1.05,11.2,-0.25,11.85,-0.15,11.5,0.1,9.45,0.75,9.35,1.1,9.65,0.9,9.72,0.62,8.78,2.25,-6.75,2.1,-6.65,-1.25,5.85,-1.95,3.95,-0.95,5.75,0.85,5.85,0.9,5.95,-0.7,8.4,-0.4,8.15,-0.9,8.2,-0.6,7.95,-0.25,7.95,-1.1,7.75,-0.9,7.55,-0.5,7.55,-1.25,7.9,-0.15,8.2,0.2,8.42,-0.45,7.75,-1.05,8.0,-0.7,7.75,0.1,8.2];
const c18 = [-2.08,11.5,-2.02,11.3,-2,11.62,-1.95,11.15,-1.9,11.4,-1.88,11.72,-1.82,11.02,-1.8,11.25,-1.75,11.55,-1.72,11.82,-1.7,10.95,-1.65,11.35,-1.62,11.12,-1.58,11.65,-1.55,11.9,-1.5,10.88,-1.48,11.5,-1.42,11.2,-1.4,11.75,-1.38,11,-1.32,11.98,-1.3,11.4,-1.25,10.8,-1.22,11.6,-1.18,11.15,-1.12,11.85,-1.1,12.02,-1.08,10.95,-1.02,11.45,-1,11.7,-0.95,11.25,-0.9,12.08,-0.88,11.9,-0.82,10.9,-0.78,11.55,-0.75,12.1,-0.7,11.8,-0.65,11.35,-0.6,12.0,-0.55,11.05,-0.52,11.65,-0.45,12.12,-0.42,11.9,-0.35,11.25,-0.3,11.5,-0.28,12.05,-0.2,11.78,-0.15,12.0,-0.08,11.3,0,11.6,0.02,11.9,0.08,11.05,0.12,12,0.2,11.72,0.25,11.45,0.3,11.9,0.35,11.15,0.42,11.8,0.5,11.55,0.55,11.92,0.62,11.3,0.7,11.7,0.75,11.85,0.82,11.45,0.9,11.62,0.95,11.2,1.0,11.72,1.05,11.5,1.12,11.05,1.18,11.65,1.25,11.35,1.3,11.55,1.38,10.95,1.42,11.4,1.48,11.18,1.52,10.75,1.58,11.35,1.62,11.02,1.68,11.25,1.72,10.75,1.78,11.1,1.82,10.55,1.88,10.9,1.92,11.1,1.98,10.7,2.02,10.4,2.05,10.92,2.12,10.6,2.18,10.78,2.2,10.25,2.25,10.5,2.28,10.65,2.35,10.1,2.38,10.35,2.42,10.55,2.48,9.95,2.52,10.22,2.58,10.38,2.62,10.1,2.65,10.05,2.5,9.82,2.35,9.75,2.38,9.9,2.2,9.85,2.22,9.58,2.08,9.75,2.05,9.5,1.9,9.62,1.88,9.4,1.72,9.55,1.7,9.32,1.55,9.4,1.62,9.72,1.4,9.72,1.32,9.55,1.5,9.88,2.0,9.95,1.85,10.05,1.75,10.3,1.95,10.2,2.12,10.12,1.6,10.5,1.2,10.55,1.05,10.25,1.3,10.75,0.95,10.75,0.6,10.65,0.45,10.75,0.82,10.45,0.75,10.25,0.45,10.2,0.55,10.1,0.2,10.65,0.3,10.42,0.1,10.95,-0.1,10.25,-0.22,10.2,-0.3,10.55,-0.48,10.75,-0.7,10.55,-0.78,10.3,-1.05,10.42,-1.2,10.35,-1.45,10.3,-1.5,10.08,-1.38,9.85,-1.25,9.7,-1.15,9.55,-1.05,9.45,-1.28,10.15,-0.9,10.65,-1.25,10.6,-0.05,10.75,0.8,10.0,1.05,9.8,-0.65,8.7,-0.3,9.1,-0.62,9.35,0.95,5.9,1.2,6.0,-13.3,7.12,3.2,3.75,2.42,-6.55,-2.85,5.45,-1.95,11.5,-1.85,11.15,-1.72,11.4,-1.58,11.25,-1.55,11.0,-1.42,11.62,-1.35,11.3,-1.28,11.85,-1.15,11.55,-1.15,11.35,-1.05,11.92,-0.98,11.6,-0.85,11.4,-0.82,11.75,-0.68,12.02,-0.62,11.55,-0.5,11.85,-0.42,11.45,-0.3,11.8,-0.12,11.85,0.05,11.45,0.15,11.85,0.32,11.65,0.45,11.55,0.6,11.75,0.72,11.5,0.88,11.45,0.92,11.8,1.12,11.5,1.22,11.2,1.35,11.45,1.45,11.05,1.62,11.15,1.75,10.92,1.9,10.72,2.02,10.62,2.1,10.8,2.25,10.38,2.32,10.62,2.42,10.2,2.55,10.05,2.42,9.85,2.28,9.82,2.12,9.62,1.98,9.7,1.8,9.48,1.6,9.5,1.82,9.7];
const c19 = [-5.75,7.6,-5.7,7.45,-5.6,7.5,-5.55,7.72,-5.5,7.35,-5.45,7.55,-5.35,7.6,-5.3,7.38,-5.22,7.52,-5.15,7.45,-5.05,7.3,-5.0,7.42,-4.92,7.35,-4.85,7.25,-4.7,7.3,-4.6,7.2,-4.55,7.3];
const c20 = [-2.19,7.34,-2.05,7.35,-1.92,7.38,-1.8,7.44,-1.7,7.52,-1.6,7.5,-1.47,7.6,-2.2,7.1,-3.45,6.6,-2.55,6.65,-2.6,6.45,-2.42,6.55,-2.5,6.3,-2.65,6.35,-2.35,6.3,-2.55,6.1,-2.42,6.05,-2.6,5.85,-2.48,5.75,-2.58,5.6,-2.35,5.85,-1.95,4.75,-2.25,4.9,-1.65,5.7,-2.3,5.2];
const c21 = [-2.05,8.35,-1.95,8.38,-1.82,8.32,-1.65,8.3,-1.55,8.18,-1.42,8.2,-1.35,8.0,-1.45,7.95,-1.25,7.75,-1.2,7.92,-0.98,7.6,-0.75,7.55,-0.62,7.45,-0.85,7.4,-0.55,7.2,-0.72,7.1,-0.85,7.2,-0.95,7.0,-1.1,6.82,-1.0,6.85,-0.85,6.9,-1.15,6.7,-1.25,6.55,-1.42,6.45,-1.55,6.35,-1.48,6.5,-1.65,6.35,-1.75,6.15,-1.9,6.0,-2.05,5.95,-2.2,5.85,4.28,6.42,4.35,6.55,4.3,6.58,4.38,6.45,4.32,6.52];

const clusterData = [c1,c2,c3,c4,c5,c6,c7,c8,c9,c10,c11,c12,c13,c14,c15,c16,c17,c18,c19,c20,c21];
// draw order: mixed clusters go last so black and green stay on top like the original
const drawOrder = [7,12,13,14,15,18,20,19,16,3,4,5,10,11,17,0,1,2,9,6,8];

function toPoints(flat) {
    const out = [];
    for (let i = 0; i + 1 < flat.length; i += 2) out.push({ x: flat[i], y: flat[i + 1] });
    return out;
}

const datasets = [];
for (const i of drawOrder) {
    datasets.push({
        label: clusterNames[i],
        data: toPoints(clusterData[i]),
        backgroundColor: clusterColors[i],
        borderWidth: 0,
        pointRadius: 3.3,
        pointHoverRadius: 3.3
    });
}

// cluster number on top of the points
const clusterLabels = {
    id: "clusterLabels",
    afterDatasetsDraw(chart) {
        const ctx = chart.ctx;
        ctx.save();
        ctx.fillStyle = "#000";
        ctx.font = '30px "Liberation Sans"';
        ctx.textAlign = "center";
        ctx.textBaseline = "middle";
        clusterNames.forEach((n, i) => {
            ctx.fillText(n, chart.scales.x.getPixelForValue(labelX[i]), chart.scales.y.getPixelForValue(labelY[i]) + 2);
        });
        ctx.restore();
    }
};

// two column legend like ggplot
const sideLegend = {
    id: "sideLegend",
    afterDraw(chart) {
        const ctx = chart.ctx;
        ctx.save();
        ctx.font = '32px "Liberation Sans"';
        ctx.textBaseline = "middle";
        ctx.textAlign = "left";
        clusterNames.forEach((n, i) => {
            const col = i < 11 ? 0 : 1;
            const row = col ? i - 11 : i;
            const y = 268.3 + row * 40.95;
            ctx.fillStyle = clusterColors[i];
            ctx.beginPath();
            ctx.arc(col ? 1236 : 1122, y, 10.5, 0, Math.PI * 2);
            ctx.fill();
            ctx.fillStyle = "#000";
            ctx.fillText(n, col ? 1276 : 1162, y + 2);
        });
        ctx.restore();
    }
};

new Chart(document.getElementById("umap"), {
    type: "scatter",
    data: { datasets },
    plugins: [clusterLabels, sideLegend],
    options: {
        responsive: false,
        animation: false,
        layout: { padding: { left: 0, right: 280, top: 0, bottom: 0 } },
        plugins: {
            legend: { display: false },
            tooltip: { enabled: false },
            title: {
                display: true,
                text: "cluster_id",
                color: "#000",
                fullSize: false,
                font: { family: '"Liberation Sans"', size: 42.67, weight: "bold", lineHeight: 1.2 },
                padding: { top: 27, bottom: 14 }
            }
        },
        scales: {
            x: {
                type: "linear",
                min: -14.76,
                max: 11.51,
                afterFit(s) { s.height = 127; },
                afterBuildTicks(s) { s.ticks = xTicks.map(v => ({ value: v })); },
                ticks: { color: "#000", font: { family: '"Liberation Sans"', size: 32 }, padding: 5, maxRotation: 0 },
                grid: { drawOnChartArea: false, tickLength: 8, tickWidth: 2.7, tickColor: "#000" },
                border: { color: "#000", width: 2.7 },
                title: { display: true, text: "UMAP_1", color: "#000", font: { family: '"Liberation Sans"', size: 36.5 }, padding: { top: 3, bottom: 30 } }
            },
            y: {
                type: "linear",
                min: -12.25,
                max: 13.35,
                afterFit(s) { s.width = 142; },
                afterBuildTicks(s) { s.ticks = yTicks.map(v => ({ value: v })); },
                ticks: { color: "#000", font: { family: '"Liberation Sans"', size: 32 }, padding: 8 },
                grid: { drawOnChartArea: false, tickLength: 8, tickWidth: 2.7, tickColor: "#000" },
                border: { color: "#000", width: 2.7 },
                title: { display: true, text: "UMAP_2", color: "#000", font: { family: '"Liberation Sans"', size: 36.5 }, padding: { top: 27, bottom: 3 } }
            }
        }
    }
});
</script>
</body>
</html>
